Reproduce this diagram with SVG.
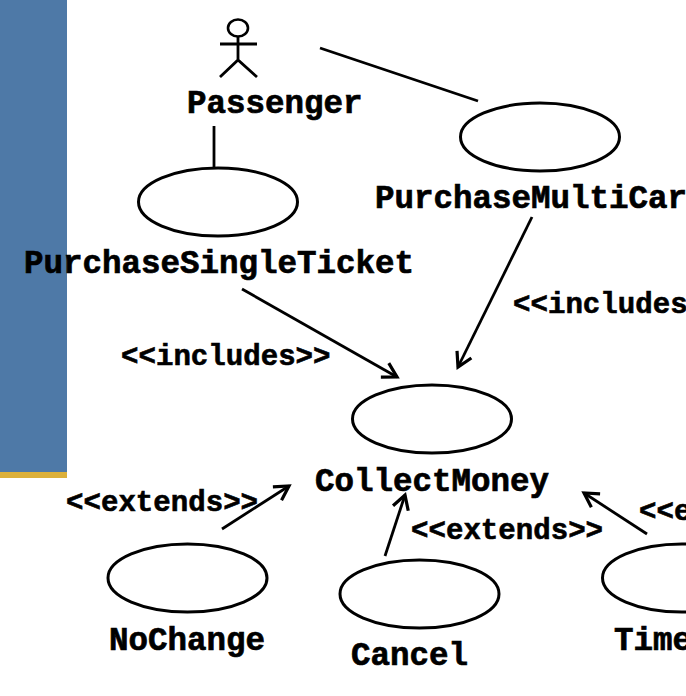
<svg xmlns="http://www.w3.org/2000/svg" width="686" height="696" viewBox="0 0 686 696">
<defs>
<marker id="open" viewBox="0 0 24 24" markerUnits="userSpaceOnUse" markerWidth="24" markerHeight="24" refX="20" refY="12" orient="auto" overflow="visible"><path d="M6 4 L20 12 L6 20" fill="none" stroke="#000" stroke-width="3.2"/></marker>
</defs>
<style>
.u{fill:#fff;stroke:#000;stroke-width:3}
.l{fill:none;stroke:#000;stroke-width:2.8}
.a{marker-end:url(#open)}
.n{font-family:"Liberation Mono",monospace;font-weight:700;font-size:32.5px;fill:#000;stroke:#000;stroke-width:.7px}
.s{font-family:"Liberation Mono",monospace;font-weight:700;font-size:29.1px;fill:#000;stroke:#000;stroke-width:.6px}
</style>
<g id="background"><rect x="0" y="0" width="67" height="472" fill="#4e79a7"/><rect x="0" y="472" width="67" height="6" fill="#dcb03a"/></g>
<g id="connectors">
<line class="l" x1="214" y1="126" x2="214" y2="171"/>
<line class="l" x1="320" y1="48" x2="478" y2="101"/>
<line class="l a" x1="242" y1="289" x2="397" y2="377"/>
<line class="l a" x1="532" y1="217" x2="458" y2="367"/>
<line class="l a" x1="222" y1="529" x2="289" y2="486"/>
<line class="l a" x1="385" y1="556" x2="405" y2="495"/>
<line class="l a" x1="647" y1="534" x2="584" y2="493"/>
</g>
<g id="passenger">
<ellipse cx="238" cy="28" rx="10" ry="8.500" fill="none" stroke="#000" stroke-width="2.600"/>
<path class="l" d="M238 37V60M220 44H257M220 77L238 60L257 77"/>
<text class="n" x="187" y="113">Passenger</text>
</g>
<g id="purchase-single-ticket"><ellipse class="u" cx="218" cy="202" rx="79.500" ry="34"/><text class="n" x="24" y="273">PurchaseSingleTicket</text></g>
<g id="purchase-multi-card"><ellipse class="u" cx="540" cy="137" rx="79.500" ry="34"/><text class="n" x="375" y="208">PurchaseMultiCar</text></g>
<g id="collect-money"><ellipse class="u" cx="432" cy="419" rx="79.500" ry="34"/><text class="n" x="315" y="491">CollectMoney</text></g>
<g id="no-change"><ellipse class="u" cx="187.500" cy="578" rx="79.500" ry="34"/><text class="n" x="109" y="650">NoChange</text></g>
<g id="cancel"><ellipse class="u" cx="419.500" cy="594" rx="79.500" ry="34"/><text class="n" x="351" y="665">Cancel</text></g>
<g id="timeout"><ellipse class="u" cx="682" cy="578" rx="79.500" ry="34"/><text class="n" x="614" y="650">Time</text></g>
<g id="labels">
<text class="s" x="121" y="365">&lt;&lt;includes&gt;&gt;</text>
<text class="s" x="513" y="313">&lt;&lt;includes</text>
<text class="s" x="66" y="511">&lt;&lt;extends&gt;&gt;</text>
<text class="s" x="411" y="539">&lt;&lt;extends&gt;&gt;</text>
<text class="s" x="639" y="520">&lt;&lt;e</text>
</g>
</svg>
